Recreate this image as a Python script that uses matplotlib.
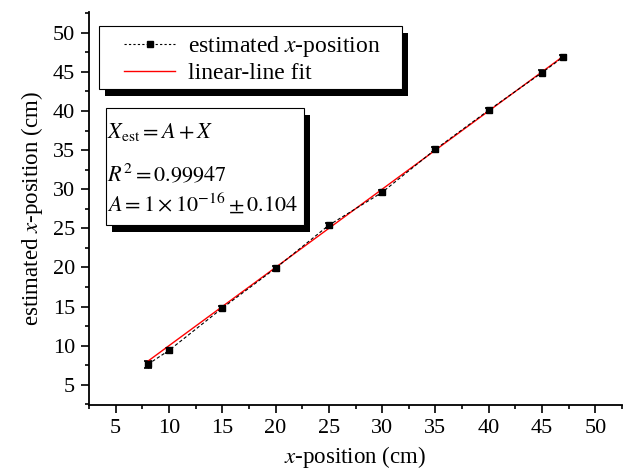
import matplotlib
matplotlib.use("Agg")
import matplotlib.pyplot as plt
import matplotlib.patheffects as pe
from matplotlib.patches import Rectangle
from matplotlib.lines import Line2D
from matplotlib.legend_handler import HandlerLine2D
from matplotlib.ticker import MultipleLocator

plt.rcParams['font.family'] = ['Liberation Serif', 'DejaVu Serif']
plt.rcParams['mathtext.fontset'] = 'stix'

# data
x_true = [8, 10, 15, 20, 25, 30, 35, 40, 45, 47]
x_est = [7.6, 9.4, 14.8, 19.9, 25.4, 29.6, 35.1, 40.1, 44.9, 46.9]
x_err = [0.4, 0.3, 0.3, 0.3, 0.3, 0.3, 0.3, 0.3, 0.3, 0.3]
fit_x = [8, 47]
fit_A = 0.0
ticks = [5, 10, 15, 20, 25, 30, 35, 40, 45, 50]

fig = plt.figure(figsize=(6.3, 4.75), dpi=100)
ax = fig.add_axes([0.1413, 0.147, 0.846, 0.827])

ax.errorbar(x_true, x_est, yerr=x_err, fmt='s', ls='--', color='black',
            lw=0.8, ms=4.5, capsize=3, elinewidth=1, capthick=1.2, dashes=(3, 2))
ax.plot(fit_x, [fit_A + v for v in fit_x], color='red', lw=1)

ax.set_xlim(2.5, 52.5)
ax.set_ylim(2.4, 52.6)
ax.set_xticks(ticks)
ax.set_yticks(ticks)
ax.xaxis.set_minor_locator(MultipleLocator(2.5))
ax.yaxis.set_minor_locator(MultipleLocator(2.5))
ax.tick_params(which='major', direction='out', length=6, width=1.2,
               labelsize=16, pad=4)
ax.tick_params(which='minor', direction='out', length=3, width=1.2)
for side in ['top', 'right']:
    ax.spines[side].set_visible(False)
for side in ['left', 'bottom']:
    ax.spines[side].set_linewidth(1.3)

ax.set_xlabel('$x$-position (cm)', fontsize=16.5, labelpad=4)
ax.set_ylabel('estimated $x$-position (cm)', fontsize=16.5, labelpad=6)

shadow = [pe.SimplePatchShadow(offset=(4.5, -4.5), shadow_rgbFace='black', alpha=1),
          pe.Normal()]

# boxes with hard black drop shadow
for x0, y0, w, h in [(0.0188, 0.804, 0.5685, 0.160), (0.0319, 0.458, 0.3715, 0.2977)]:
    box = Rectangle((x0, y0), w, h, transform=ax.transAxes, fc='white',
                    ec='black', lw=0.8, zorder=5, clip_on=False)
    box.set_path_effects(shadow)
    ax.add_patch(box)

# legend
h_est = Line2D([], [], color='black', ls='--', lw=0.8, dashes=(2, 2),
               marker='s', ms=5)
h_fit = Line2D([], [], color='red', lw=1)
leg = ax.legend([h_est, h_fit], ['estimated $x$-position', 'linear-line fit'],
                loc='upper left', bbox_to_anchor=(0.0657, 0.945),
                frameon=False, fontsize=17, borderpad=0, borderaxespad=0,
                handlelength=2.16, handletextpad=0.55, labelspacing=0.17,
                handler_map={Line2D: HandlerLine2D()})
leg.set_zorder(6)

# fit result text
fit_lines = ['$X_{\\mathrm{est}} = A + X$', '$R^2 = 0.99947$',
             '$A = 1\\times10^{-16} \\pm 0.104$']
for y, s in zip([0.679, 0.570, 0.496], fit_lines):
    ax.text(0.0338, y, s, transform=ax.transAxes, fontsize=16,
            va='baseline', ha='left', zorder=7)

fig.savefig('out.png', dpi=100)
